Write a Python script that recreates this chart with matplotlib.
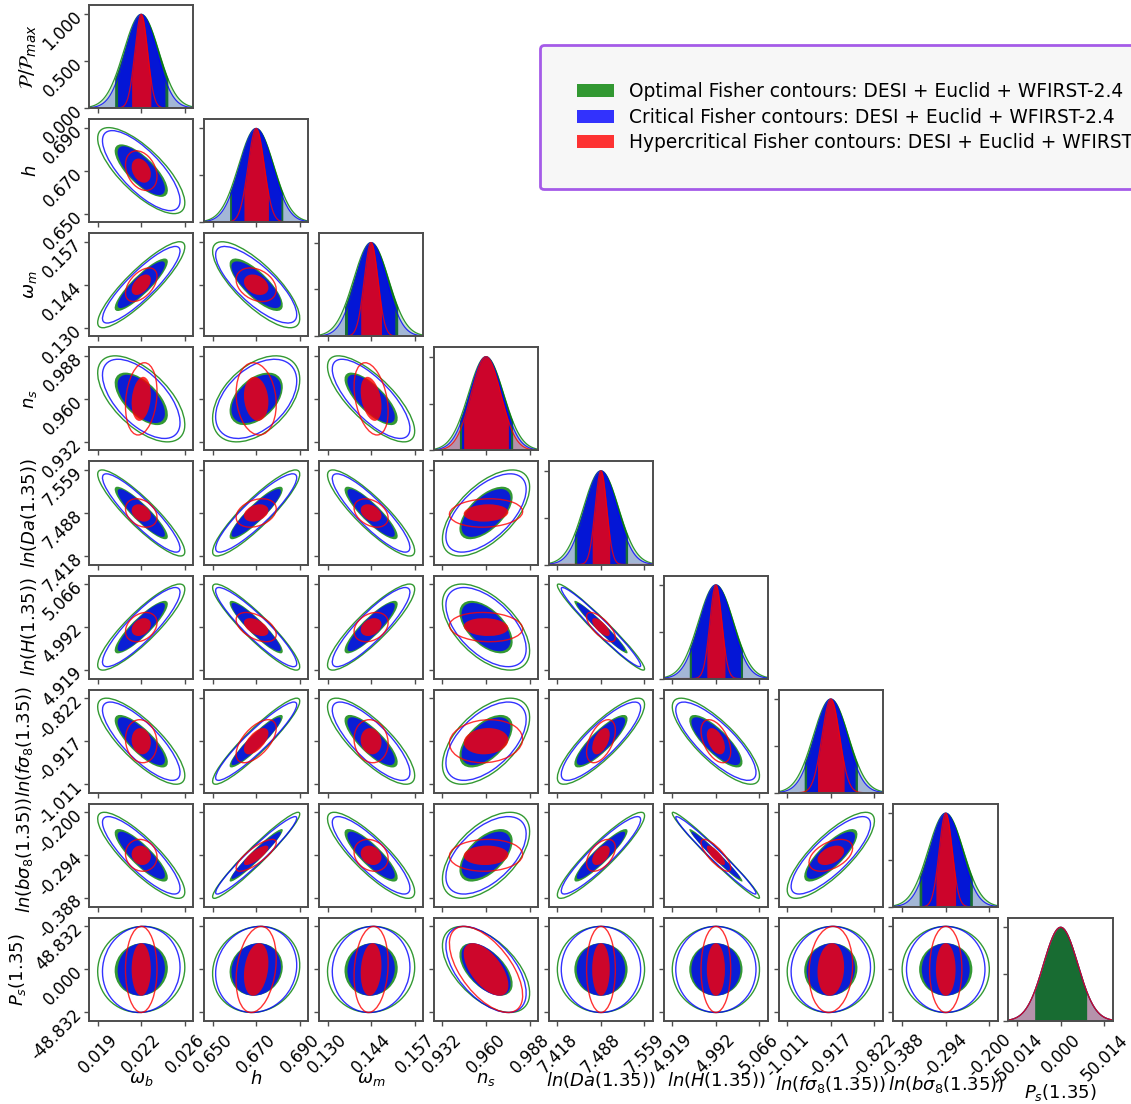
import numpy as np
import matplotlib
matplotlib.use('Agg')
import matplotlib.pyplot as plt
from matplotlib.patches import Ellipse, Patch

# parametros del triangulo
labels = [r'$\omega_b$', r'$h$', r'$\omega_m$', r'$n_s$', r'$ln(Da(1.35))$',
          r'$ln(H(1.35))$', r'$ln(f\sigma_8(1.35))$', r'$ln(b\sigma_8(1.35))$',
          r'$P_s(1.35)$']
fiducial = [0.0224, 0.67, 0.1436, 0.96, 7.4884, 4.9924, -0.9166, -0.294, 0.0]
tick_step = [0.0035, 0.02, 0.0134, 0.028, 0.0705, 0.0735, 0.0946, 0.094, 48.832]
diag_tick_step = [0.0035, 0.02, 0.0134, 0.028, 0.0705, 0.0735, 0.0946, 0.094, 50.014]

# errores marginales (1 sigma)
sigma_opt = [0.00141, 0.00806, 0.00540, 0.01129, 0.02843, 0.02964, 0.03815, 0.03790, 19.69]
sigma_crit = [0.001255, 0.00750, 0.00481, 0.01039, 0.02587, 0.02727, 0.03472, 0.03411, 19.69]
sigma_hyper = [0.00051, 0.00371, 0.00211, 0.00948, 0.00938, 0.01008, 0.01908, 0.01402, 19.69]

# correlaciones (triangulo inferior, fila i contra columnas j < i)
corr_opt = [
    [],
    [-0.75],
    [0.88, -0.78],
    [-0.6, 0.45, -0.75],
    [-0.9, 0.9, -0.88, 0.6],
    [0.88, -0.92, 0.88, -0.55, -0.97],
    [-0.8, 0.93, -0.8, 0.55, 0.85, -0.8],
    [-0.85, 0.96, -0.85, 0.55, 0.92, -0.98, 0.8],
    [0.05, 0.1, 0.05, -0.55, 0.0, 0.0, 0.05, 0.0],
]
corr_hyper = [
    [],
    [-0.3],
    [0.5, -0.3],
    [0.2, -0.15, -0.35],
    [-0.3, 0.3, -0.35, 0.1],
    [0.3, -0.5, 0.3, -0.1, -0.72],
    [-0.1, 0.6, -0.1, 0.1, 0.5, -0.47],
    [-0.1, 0.8, -0.2, 0.05, 0.5, -0.8, 0.45],
    [0.0, 0.25, 0.15, -0.6, 0.0, 0.0, 0.1, 0.0],
]
# relleno 1D solo donde la distribucion se distingue
shade_1d_crit = [True, True, True, True, True, True, True, True, False]
shade_1d_hyper = [True, True, True, True, True, True, True, True, False]

leyendas = ['Optimal Fisher contours: DESI + Euclid + WFIRST-2.4',
            'Critical Fisher contours: DESI + Euclid + WFIRST-2.4',
            'Hypercritical Fisher contours: DESI + Euclid + WFIRST-2.4']

n = len(labels)
k68 = np.sqrt(2.30)
k95 = np.sqrt(6.17)
casos = [(sigma_opt, corr_opt, 'green', [True] * n, '#106a2c'),
         (sigma_crit, corr_opt, 'blue', shade_1d_crit, 'blue'),
         (sigma_hyper, corr_hyper, 'red', shade_1d_hyper, 'red')]

fig, axes = plt.subplots(n, n, figsize=(11.31, 11.04), dpi=100)
fig.subplots_adjust(left=0.0787, right=0.984, top=0.9955, bottom=0.0752,
                    wspace=0.1, hspace=0.107)


def elipse(ax, xc, yc, cov, k, **kw):
    vals, vecs = np.linalg.eigh(cov)
    ang = np.degrees(np.arctan2(vecs[1, 1], vecs[0, 1]))
    e = Ellipse((xc, yc), 2 * k * np.sqrt(vals[1]), 2 * k * np.sqrt(vals[0]),
                angle=ang, **kw)
    ax.add_patch(e)


for i in range(n):
    for j in range(n):
        ax = axes[i, j]
        if j > i:
            ax.axis('off')
            continue
        if i == j:
            f = fiducial[i]
            d = diag_tick_step[i]
            x = np.linspace(f - 1.2 * d, f + 1.2 * d, 500)
            for sig, corr, col, shade, solid in casos:
                y = np.exp(-0.5 * ((x - f) / sig[i]) ** 2)
                ax.fill_between(x, 0, y, color=col, alpha=0.2, lw=0)
            for sig, corr, col, shade, solid in casos:
                if not shade[i]:
                    continue
                xi = np.linspace(f - k68 * sig[i], f + k68 * sig[i], 300)
                yi = np.exp(-0.5 * ((xi - f) / sig[i]) ** 2)
                ax.fill_between(xi, 0, yi, color=solid, alpha=0.95 if col == 'green' else 0.8, lw=0)
            for sig, corr, col, shade, solid in casos:
                y = np.exp(-0.5 * ((x - f) / sig[i]) ** 2)
                ax.plot(x, y, color=col, alpha=0.8, lw=0.9)
            ax.set_xlim(f - 1.2 * d, f + 1.2 * d)
            ax.set_ylim(0, 1.1)
            ax.set_xticks([f - d, f, f + d])
            ax.set_yticks([0, 0.5, 1.0])
        else:
            xf, yf = fiducial[j], fiducial[i]
            for sig, corr, col, shade, solid in casos:
                r = corr[i][j]
                cov = np.array([[sig[j] ** 2, r * sig[i] * sig[j]],
                                [r * sig[i] * sig[j], sig[i] ** 2]])
                elipse(ax, xf, yf, cov, k68, facecolor=col, alpha=0.8, lw=0)
            for sig, corr, col, shade, solid in casos:
                r = corr[i][j]
                cov = np.array([[sig[j] ** 2, r * sig[i] * sig[j]],
                                [r * sig[i] * sig[j], sig[i] ** 2]])
                elipse(ax, xf, yf, cov, k95, facecolor='none', edgecolor=col,
                       alpha=0.8, lw=1.0)
            dx, dy = tick_step[j], tick_step[i]
            ax.set_xlim(xf - 1.2 * dx, xf + 1.2 * dx)
            ax.set_ylim(yf - 1.2 * dy, yf + 1.2 * dy)
            ax.set_xticks([xf - dx, xf, xf + dx])
            ax.set_yticks([yf - dy, yf, yf + dy])

        for s in ax.spines.values():
            s.set_color('#4d4d4d')
            s.set_linewidth(1.4)
        ax.tick_params(direction='out', length=3.5, width=1, color='#4d4d4d')

        # etiquetas de los ejes
        if i == n - 1:
            ax.set_xticklabels(['%.3f' % v for v in ax.get_xticks()], fontsize=12, rotation=45)
            ax.set_xlabel(labels[j], fontsize=13, labelpad=-5)
        else:
            ax.set_xticklabels([])
        if j == 0:
            if i == 0:
                ax.set_yticklabels(['0.000', '0.500', '1.000'])
                ax.set_ylabel(r'$\mathcal{P}/\mathcal{P}_{max}$', fontsize=14, labelpad=0)
            else:
                ax.set_yticklabels(['%.3f' % v for v in ax.get_yticks()])
                ax.set_ylabel(labels[i], fontsize=13, labelpad=0)
            for t in ax.get_yticklabels():
                t.set_fontsize(12)
                t.set_rotation(45)
                t.set_rotation_mode('anchor')
                t.set_ha('right')
                t.set_va('center')
        else:
            ax.set_yticklabels([])

handles = [Patch(facecolor=c, alpha=0.8) for c in ['green', 'blue', 'red']]
leg = fig.legend(handles, leyendas, loc='upper left',
                 bbox_to_anchor=(540 / 1131, 1 - 45 / 1104), fontsize=13.4,
                 borderpad=2.0, borderaxespad=0, labelspacing=0.35,
                 framealpha=1, facecolor='#f7f7f7', edgecolor='#a55be8')
leg.get_frame().set_linewidth(2)

plt.savefig('out.png', dpi=100)
